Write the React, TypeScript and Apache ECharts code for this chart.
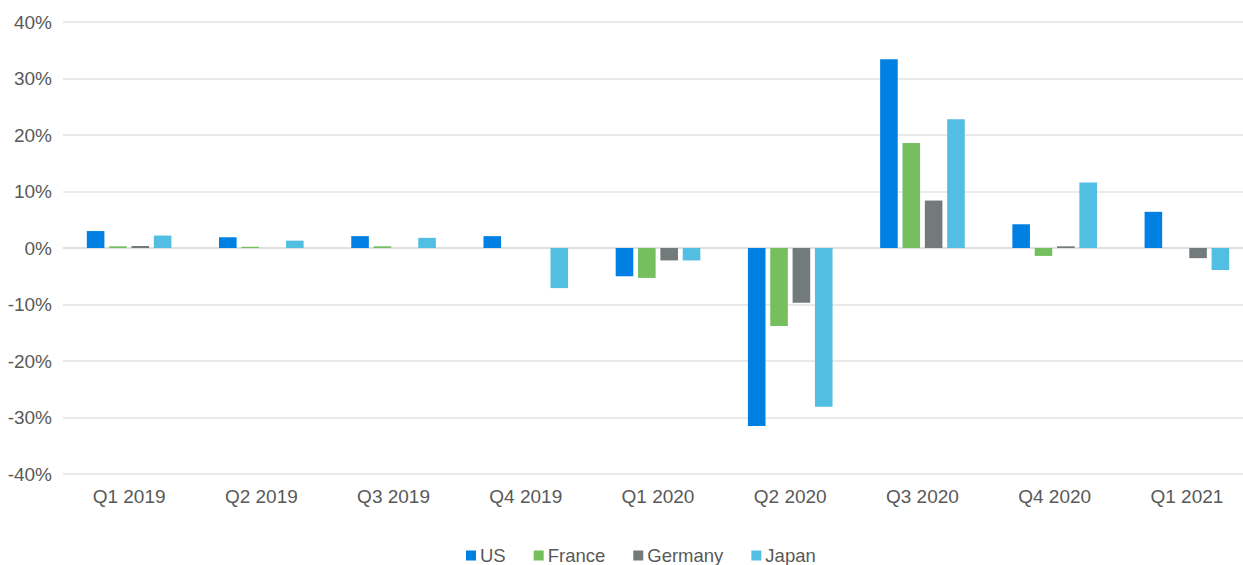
import React, { useEffect, useRef } from "react";
import * as echarts from "echarts";

const categories = ["Q1 2019", "Q2 2019", "Q3 2019", "Q4 2019", "Q1 2020", "Q2 2020", "Q3 2020", "Q4 2020", "Q1 2021"];
const usValues = [3.0, 1.9, 2.1, 2.1, -5.0, -31.5, 33.4, 4.2, 6.4];
const franceValues = [0.3, 0.2, 0.3, 0, -5.3, -13.8, 18.6, -1.4, 0];
const germanyValues = [0.35, 0, 0, 0, -2.2, -9.7, 8.4, 0.3, -1.8];
const japanValues = [2.2, 1.3, 1.8, -7.1, -2.2, -28.1, 22.8, 11.6, -3.9];
const seriesNames = ["US", "France", "Germany", "Japan"];
const seriesColors = ["#0080e3", "#75bf5f", "#727a7c", "#52bee1"];

export default function App() {
  const ref = useRef<HTMLDivElement>(null);
  useEffect(() => {
    document.body.style.margin = "0";
    if (!ref.current) return;
    const chart = echarts.init(ref.current, undefined, { renderer: "svg" });
    const values = [usValues, franceValues, germanyValues, japanValues];
    const textColor = "#595959";
    const font = "Arial, 'Liberation Sans', sans-serif";
    chart.setOption({
      animation: false,
      backgroundColor: "#ffffff",
      grid: { left: 63, right: 0, top: 22, bottom: 91, containLabel: false },
      legend: {
        data: seriesNames,
        left: 466,
        top: 546,
        padding: 0,
        itemWidth: 10,
        itemHeight: 10,
        itemGap: 28,
        icon: "rect",
        textStyle: { color: textColor, fontSize: 18.5, fontFamily: font, lineHeight: 18, padding: [0, 0, 0, -1] },
      },
      xAxis: {
        type: "category",
        data: categories,
        axisLine: { show: false },
        axisTick: { show: false },
        axisLabel: { color: textColor, fontSize: 19, fontFamily: font, margin: 13 },
      },
      yAxis: {
        type: "value",
        min: -40,
        max: 40,
        interval: 10,
        axisLine: { show: false },
        axisTick: { show: false },
        axisLabel: { color: textColor, fontSize: 19, fontFamily: font, margin: 11, formatter: "{value}%" },
        splitLine: {
          lineStyle: {
            color: ["#e3e3e3", "#e3e3e3", "#e3e3e3", "#e3e3e3", "#d4d4d4", "#e3e3e3", "#e3e3e3", "#e3e3e3", "#e3e3e3"],
            width: 1.5,
          },
        },
      },
      series: seriesNames.map((name, i) => ({
        name,
        type: "bar",
        data: values[i],
        barGap: "27%",
        barCategoryGap: "36%",
        itemStyle: { color: seriesColors[i] },
      })),
    });
    return () => chart.dispose();
  }, []);
  return (
    <div style={{ width: 1243, height: 565, overflow: "hidden", position: "relative" }}>
      <div ref={ref} style={{ width: 1253, height: 565 }} />
    </div>
  );
}
